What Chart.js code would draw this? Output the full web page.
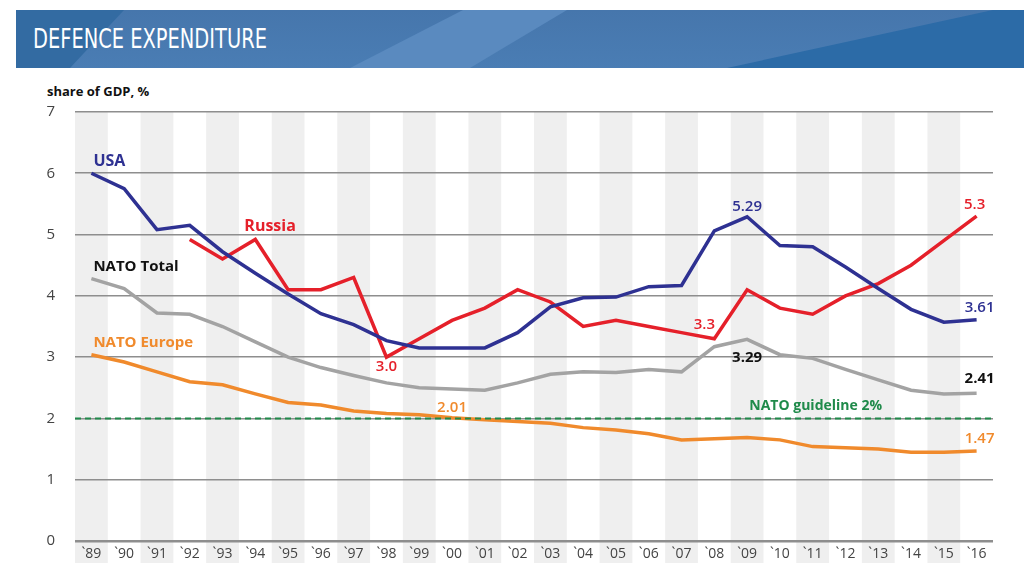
<!DOCTYPE html>
<html>
<head>
<meta charset="utf-8">
<script src="https://cdn.jsdelivr.net/npm/chart.js@4/dist/chart.umd.min.js"></script>
<style>
  html, body { margin: 0; padding: 0; background: #fff; }
  #wrap { position: relative; width: 1024px; height: 566px; overflow: hidden; }
  #header {
    position: absolute; left: 16px; top: 10px; width: 1008px; height: 58px; overflow: hidden;
    background: linear-gradient(180deg, #4676ac 0%, #4a7db4 100%);
  }
  #header .band { position: absolute; left: 0; top: 0; width: 1008px; height: 58px; }
  #dkL { background: #336ba2; clip-path: polygon(0 0, 108px 0, 54px 58px, 0 58px); }
  #lt  { background: #5a8abf; clip-path: polygon(447px 0, 551px 0, 454px 58px, 334px 58px); }
  #dkR { background: #2c6ba7; clip-path: polygon(977px 0, 1008px 0, 1008px 58px, 711px 58px); }
  #title {
    position: absolute; left: 17px; top: 13px; color: #fff; white-space: nowrap;
    font-family: "DejaVu Sans Condensed", "Liberation Sans Narrow", "DejaVu Sans", sans-serif;
    font-size: 27px; transform: scaleX(0.8); transform-origin: 0 0;
  }
  #unit {
    position: absolute; left: 47px; top: 82px; color: #111;
    font-family: "Open Sans", sans-serif; font-weight: 700; font-size: 13px;
  }
  canvas { position: absolute; left: 0; top: 0; }
</style>
</head>
<body>
<div id="wrap">
  <div id="header">
    <div class="band" id="dkL"></div>
    <div class="band" id="lt"></div>
    <div class="band" id="dkR"></div>
    <div id="title">DEFENCE EXPENDITURE</div>
  </div>
  <div id="unit">share of GDP, %</div>
  <canvas id="dataChart" width="1024" height="566"></canvas>
</div>
<script>
const years = ["`89", "`90", "`91", "`92", "`93", "`94", "`95", "`96", "`97", "`98", "`99", "`00", "`01", "`02",
               "`03", "`04", "`05", "`06", "`07", "`08", "`09", "`10", "`11", "`12", "`13", "`14", "`15", "`16"];
const usa = [6.0, 5.75, 5.08, 5.15, 4.72, 4.37, 4.03, 3.71, 3.53, 3.27, 3.15, 3.15, 3.15, 3.4,
             3.82, 3.97, 3.98, 4.15, 4.17, 5.06, 5.29, 4.82, 4.8, 4.47, 4.12, 3.78, 3.57, 3.61];
const russia = [null, null, null, 4.92, 4.6, 4.92, 4.1, 4.1, 4.3, 3.0, 3.3, 3.6, 3.8, 4.1,
                3.9, 3.5, 3.6, 3.5, 3.4, 3.3, 4.1, 3.8, 3.7, 4.0, 4.2, 4.5, 4.9, 5.3];
const natoTotal = [4.28, 4.12, 3.72, 3.7, 3.5, 3.25, 3.0, 2.83, 2.7, 2.58, 2.5, 2.48, 2.46, 2.58,
                   2.72, 2.76, 2.75, 2.8, 2.76, 3.17, 3.29, 3.04, 2.98, 2.8, 2.63, 2.46, 2.4, 2.41];
const natoEurope = [3.04, 2.92, 2.76, 2.6, 2.55, 2.4, 2.26, 2.22, 2.12, 2.08, 2.06, 2.01, 1.98, 1.95,
                    1.92, 1.85, 1.81, 1.75, 1.65, 1.67, 1.69, 1.65, 1.54, 1.52, 1.5, 1.45, 1.45, 1.47];
const guideline = 2;
const yMin = 0, yMax = 7;

const NAVY = "#2e3192", RED = "#e5202a", GRAY = "#a3a3a3", ORANGE = "#f08a2c", GREEN = "#1f8a4a";
const FONT = "'Open Sans', sans-serif";

// [dataset index, point index, text, color, dx, dy, align, weight, size]
const labels = [
    [0, 0, "USA", NAVY, 2, -12, "left", 700, 16],
    [1, 5, "Russia", RED, -11, -13, "left", 700, 16],
    [2, 0, "NATO Total", "#111", 2, -12, "left", 700, 15],
    [3, 0, "NATO Europe", ORANGE, 2, -12, "left", 700, 15],
    [1, 9, "3.0", RED, 0, 10, "center", 600, 15],
    [3, 11, "2.01", ORANGE, 0, -10, "center", 600, 15],
    [1, 19, "3.3", RED, -10, -14, "center", 600, 15],
    [0, 20, "5.29", NAVY, 0, -10, "center", 600, 15],
    [1, 27, "5.3", RED, -2, -11, "center", 600, 15],
    [0, 27, "3.61", NAVY, 3, -12, "center", 600, 15],
    [2, 20, "3.29", "#111", 0, 18, "center", 700, 15],
    [2, 27, "2.41", "#111", 3, -15, "center", 700, 15],
    [3, 27, "1.47", ORANGE, 3, -12, "center", 600, 15]
];

const decor = {
    id: "decor",
    beforeDraw(chart) {
        const c = chart.ctx, x = chart.scales.x, a = chart.chartArea;
        const w = x.getPixelForValue(1) - x.getPixelForValue(0);
        c.save();
        c.fillStyle = "#efefef";
        years.forEach((y, i) => {
            if (i % 2 === 0) c.fillRect(x.getPixelForValue(i) - w / 2, a.top, w, chart.height - 3 - a.top);
        });
        c.restore();
    },
    afterDatasetsDraw(chart) {
        const c = chart.ctx, a = chart.chartArea, ys = chart.scales.y, xs = chart.scales.x;
        // NATO 2% guideline
        const gy = ys.getPixelForValue(guideline);
        c.save();
        c.strokeStyle = GREEN;
        c.lineWidth = 2;
        c.setLineDash([6, 4]);
        c.beginPath();
        c.moveTo(a.left, gy);
        c.lineTo(a.right, gy);
        c.stroke();
        c.setLineDash([]);
        c.fillStyle = GREEN;
        c.font = "700 14px " + FONT;
        c.textAlign = "center";
        c.textBaseline = "middle";
        c.fillText("NATO guideline 2%", xs.getPixelForValue(22) + 3, gy - 12);

        labels.forEach(([d, i, t, col, dx, dy, al, wt, sz]) => {
            const p = chart.getDatasetMeta(d).data[i];
            c.fillStyle = col;
            c.font = wt + " " + sz + "px " + FONT;
            c.textAlign = al;
            c.fillText(t, p.x + dx, p.y + dy);
        });
        c.restore();
    }
};

const line = (data, color) => ({
    data: data, borderColor: color, borderWidth: 3.5, pointRadius: 0,
    fill: false, tension: 0, spanGaps: false, borderJoinStyle: "miter"
});

new Chart(document.getElementById("dataChart").getContext("2d"), {
    type: "line",
    data: {
        labels: years,
        datasets: [line(usa, NAVY), line(russia, RED), line(natoTotal, GRAY), line(natoEurope, ORANGE)]
    },
    options: {
        responsive: false,
        animation: false,
        events: [],
        layout: { padding: { top: 112, right: 31, left: 0, bottom: 0 } },
        plugins: { legend: { display: false }, tooltip: { enabled: false } },
        scales: {
            x: {
                offset: true,
                grid: { display: false, drawTicks: false },
                border: { display: false },
                ticks: { color: "#444", padding: 5, font: { family: FONT, size: 14 }, maxRotation: 0, autoSkip: false },
                afterFit(s) { s.height = 25; }
            },
            y: {
                min: yMin, max: yMax,
                grid: {
                    color: "#8e8e8e", drawTicks: false,
                    lineWidth: ctx => (ctx.tick && ctx.tick.value === 0 ? 2.5 : 1.6)
                },
                border: { display: false },
                ticks: { stepSize: 1, color: "#444", padding: 20, font: { family: FONT, size: 15 } },
                afterFit(s) { s.width = 75; s.paddingBottom = 4; s.paddingTop = 4; }
            }
        }
    },
    plugins: [decor]
});
</script>
</body>
</html>
